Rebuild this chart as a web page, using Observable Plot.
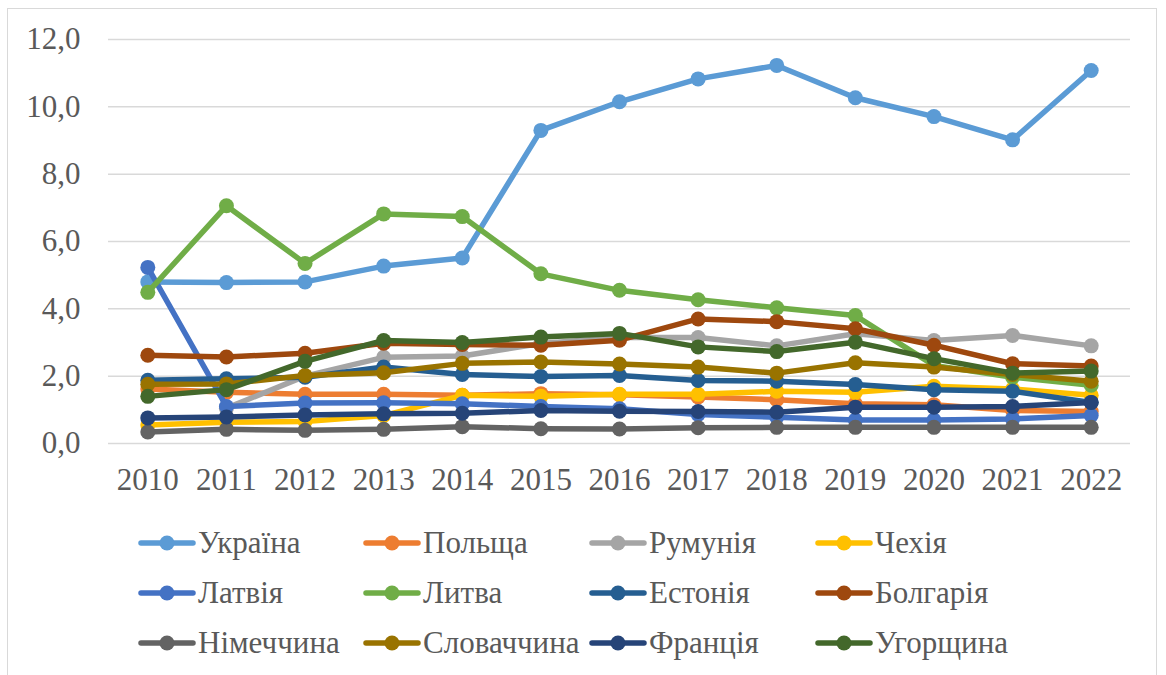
<!DOCTYPE html>
<html>
<head>
<meta charset="utf-8">
<script src="https://cdn.jsdelivr.net/npm/d3@7"></script>
<script src="https://cdn.jsdelivr.net/npm/@observablehq/plot@0.6"></script>
<style>
  html, body { margin: 0; padding: 0; background: #fff; width: 1166px; height: 675px; overflow: hidden; }
  #frame { position: absolute; left: 7px; top: 8px; width: 1150px; height: 700px; border: 1.5px solid #d9d9d9; box-sizing: border-box; }
  #chart { position: absolute; left: 0; top: 0; }
</style>
</head>
<body>
<div id="frame"></div>
<div id="chart"></div>
<div id="legend"></div>
<script>
const years = [2010, 2011, 2012, 2013, 2014, 2015, 2016, 2017, 2018, 2019, 2020, 2021, 2022];

const ukraine   = [4.80, 4.78, 4.80, 5.27, 5.51, 9.30, 10.15, 10.83, 11.23, 10.27, 9.71, 9.02, 11.08];
const poland    = [1.62, 1.52, 1.46, 1.46, 1.43, 1.48, 1.45, 1.38, 1.30, 1.18, 1.15, 0.98, 0.95];
const romania   = [null, 1.05, 2.00, 2.56, 2.60, 2.97, 3.15, 3.15, 2.90, 3.26, 3.06, 3.21, 2.90];
const czechia   = [0.55, 0.63, 0.65, 0.83, 1.43, 1.40, 1.46, 1.46, 1.55, 1.52, 1.70, 1.62, 1.43];
const latvia    = [5.23, 1.10, 1.20, 1.21, 1.18, 1.10, 1.03, 0.86, 0.78, 0.70, 0.70, 0.73, 0.83];
const lithuania = [4.49, 7.06, 5.35, 6.82, 6.74, 5.04, 4.55, 4.27, 4.03, 3.80, 2.32, 1.97, 1.73];
const estonia   = [1.88, 1.92, 1.97, 2.27, 2.05, 1.99, 2.02, 1.87, 1.85, 1.75, 1.60, 1.55, 1.22];
const bulgaria  = [2.62, 2.57, 2.68, 2.98, 2.94, 2.92, 3.07, 3.70, 3.62, 3.41, 2.92, 2.37, 2.30];
const germany   = [0.34, 0.42, 0.39, 0.42, 0.50, 0.44, 0.43, 0.47, 0.48, 0.48, 0.48, 0.48, 0.48];
const slovakia  = [1.76, 1.77, 2.02, 2.10, 2.38, 2.42, 2.36, 2.27, 2.09, 2.40, 2.27, 2.05, 1.85];
const france    = [0.76, 0.79, 0.85, 0.88, 0.90, 0.98, 0.96, 0.95, 0.93, 1.08, 1.08, 1.10, 1.22];
const hungary   = [1.40, 1.60, 2.44, 3.06, 3.00, 3.16, 3.27, 2.87, 2.73, 3.01, 2.52, 2.09, 2.15];

const seriesNames = ["Україна", "Польща", "Румунія", "Чехія", "Латвія", "Литва", "Естонія", "Болгарія", "Німеччина", "Словаччина", "Франція", "Угорщина"];
const seriesValues = [ukraine, poland, romania, czechia, latvia, lithuania, estonia, bulgaria, germany, slovakia, france, hungary];
const seriesColors = ["#5B9BD5", "#ED7D31", "#A5A5A5", "#FFC000", "#4472C4", "#70AD47", "#255E91", "#9E480E", "#636363", "#997300", "#264478", "#43682B"];
const yTicks = [0, 2, 4, 6, 8, 10, 12];

const rows = [];
seriesNames.forEach((name, i) => {
  seriesValues[i].forEach((v, j) => {
    if (v !== null) rows.push({country: name, year: years[j], value: v});
  });
});

const marks = [
  Plot.gridY(yTicks, {stroke: "#d9d9d9", strokeOpacity: 1, strokeWidth: 1.5}),
  Plot.axisY(yTicks, {tickSize: 0, tickPadding: 28, label: null, tickFormat: d => d.toFixed(1).replace(".", ","), fill: "#595959"}),
  Plot.axisX(years, {tickSize: 0, tickPadding: 24, label: null, tickFormat: d => String(d), fill: "#595959"})
];
seriesNames.forEach((name, i) => {
  const d = rows.filter(r => r.country === name);
  marks.push(Plot.line(d, {x: "year", y: "value", stroke: seriesColors[i], strokeWidth: 5.5}));
  marks.push(Plot.dot(d, {x: "year", y: "value", fill: seriesColors[i], r: 7.5}));
});

const chart = Plot.plot({
  width: 1166,
  height: 500,
  marginLeft: 108,
  marginRight: 36,
  marginTop: 39,
  marginBottom: 57,
  style: {fontFamily: "Liberation Serif, serif", fontSize: "31px", color: "#595959", background: "transparent"},
  x: {type: "linear", domain: [2009.5, 2022.5], axis: null, label: null},
  y: {domain: [0, 12], axis: null, label: null},
  marks
});
document.getElementById("chart").appendChild(chart);

const legend = document.getElementById("legend");
const colX = [138, 363, 589, 815];
const rowY = [543, 593, 643];
seriesNames.forEach((name, i) => {
  const el = document.createElement("div");
  el.style.cssText = `position:absolute;left:${colX[i % 4]}px;top:${rowY[Math.floor(i / 4)] - 20}px;height:40px;display:flex;align-items:center;white-space:nowrap;`;
  el.innerHTML = `<svg width="58" height="20" style="margin-right:2px"><line x1="3" y1="10" x2="55" y2="10" stroke="${seriesColors[i]}" stroke-width="5.5" stroke-linecap="round"/><circle cx="29" cy="10" r="7.5" fill="${seriesColors[i]}"/></svg><span style="font-family:'Liberation Serif';font-size:31px;color:#595959">${name}</span>`;
  legend.appendChild(el);
});
</script>
</body>
</html>
